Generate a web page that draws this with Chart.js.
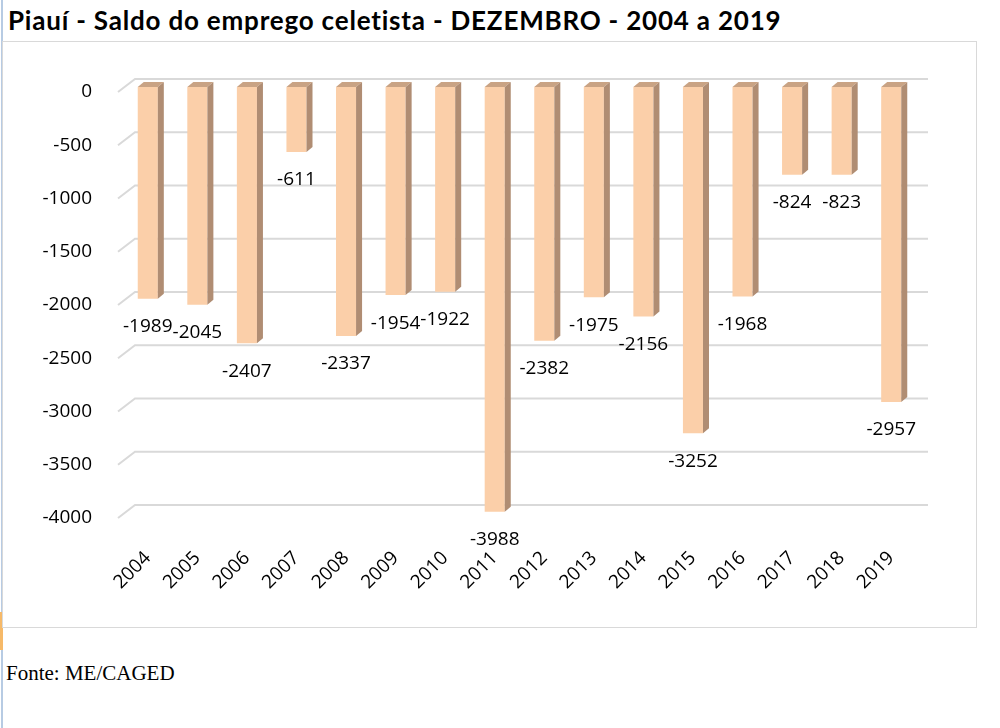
<!DOCTYPE html>
<html>
<head>
<meta charset="utf-8">
<script src="https://cdn.jsdelivr.net/npm/chart.js@4.4.0/dist/chart.umd.min.js"></script>
<style>
  html, body { margin: 0; padding: 0; background: #fff; width: 1000px; height: 728px; overflow: hidden; }
  #title { position: absolute; left: 8px; top: 4px; font-family: Lato, "Open Sans", sans-serif; font-weight: 700; font-size: 26px; letter-spacing: 0.8px; color: #000; white-space: nowrap; }
  #frame { position: absolute; left: 2px; top: 41px; width: 973px; height: 585px; border: 1.5px solid #d9d9d9; }
  #leftline { position: absolute; left: 1px; top: 0; width: 2px; height: 728px; background: #b7cbe3; }
  #orange { position: absolute; left: 0; top: 612px; width: 3px; height: 38px; background: #f6b968; }
  #source { position: absolute; left: 6px; top: 661px; font-family: "Liberation Serif", "Times New Roman", serif; font-size: 21px; color: #000; white-space: nowrap; }
  canvas { position: absolute; left: 0; top: 0; }
</style>
</head>
<body>
<div id="leftline"></div>
<div id="orange"></div>
<div id="frame"></div>
<div id="title">Piauí - Saldo do emprego celetista - DEZEMBRO - 2004 a 2019</div>
<div id="source">Fonte: ME/CAGED</div>
<canvas id="c" width="1000" height="728"></canvas>
<script>
const years = ["2004","2005","2006","2007","2008","2009","2010","2011","2012","2013","2014","2015","2016","2017","2018","2019"];
const saldo = [-1989,-2045,-2407,-611,-2337,-1954,-1922,-3988,-2382,-1975,-2156,-3252,-1968,-824,-823,-2957];
const yMin = -4000, yMax = 0, yStep = 500;

const FONT = "'Open Sans', Lato, sans-serif";
const DX = 6, DY = 5;          // bar depth
const GX = 12, GY = 8;         // grid back-wall offset
const FX = 5, FY = 5;          // grid front offset

const gridPlugin = {
  id: 'grid3d',
  beforeDatasetsDraw(chart) {
    const ctx = chart.ctx, ys = chart.scales.y, a = chart.chartArea;
    ctx.save();
    ctx.strokeStyle = '#d9d9d9';
    ctx.lineWidth = 2;
    ys.ticks.forEach(t => {
      const y = ys.getPixelForValue(t.value);
      ctx.beginPath();
      ctx.moveTo(a.left - FX, y + FY);
      ctx.lineTo(a.left + GX, y - GY);
      ctx.lineTo(a.right + GX, y - GY);
      ctx.stroke();
    });
    ctx.restore();
  }
};

const barPlugin = {
  id: 'bar3d',
  afterDatasetsDraw(chart) {
    const ctx = chart.ctx;
    const meta = chart.getDatasetMeta(0);
    ctx.save();
    meta.data.forEach((bar, i) => {
      const p = bar.getProps(['x','y','base','width'], true);
      const l = p.x - p.width/2, r = p.x + p.width/2;
      const top = Math.min(p.y, p.base), bot = Math.max(p.y, p.base);
      // top face
      ctx.fillStyle = '#c9a384';
      ctx.beginPath();
      ctx.moveTo(l, top); ctx.lineTo(r, top); ctx.lineTo(r + DX, top - DY); ctx.lineTo(l + DX, top - DY); ctx.closePath();
      ctx.fill();
      // side face
      ctx.fillStyle = '#b08d73';
      ctx.beginPath();
      ctx.moveTo(r, top); ctx.lineTo(r + DX, top - DY); ctx.lineTo(r + DX, bot - DY); ctx.lineTo(r, bot); ctx.closePath();
      ctx.fill();
      // data label
      ctx.fillStyle = '#000';
      ctx.font = '19px ' + FONT;
      ctx.textAlign = 'center';
      ctx.textBaseline = 'middle';
      ctx.fillText(String(saldo[i]), p.x, bot + 28);
    });
    ctx.restore();
  }
};

new Chart(document.getElementById('c'), {
  type: 'bar',
  data: {
    labels: years,
    datasets: [{
      data: saldo,
      backgroundColor: '#fbcfa9',
      borderWidth: 0,
      barPercentage: 0.9,
      categoryPercentage: 0.45
    }]
  },
  options: {
    responsive: false,
    animation: false,
    devicePixelRatio: 1,
    layout: { padding: { top: 87, right: 84, left: 0, bottom: 0 } },
    plugins: { legend: { display: false }, tooltip: { enabled: false }, title: { display: false } },
    scales: {
      y: {
        min: yMin, max: yMax,
        border: { display: false },
        grid: { display: false, drawTicks: false },
        ticks: { stepSize: yStep, padding: 31, labelOffset: 5, color: '#000', font: { family: FONT, size: 19 },
                 callback: v => String(v) },
        afterFit(s) { s.width = 123; }
      },
      x: {
        border: { display: false },
        grid: { display: false, drawTicks: false },
        ticks: { minRotation: 45, maxRotation: 45, padding: 34, color: '#000', font: { family: FONT, size: 19 } },
        afterFit(s) { s.height = 215; }
      }
    }
  },
  plugins: [gridPlugin, barPlugin]
});
</script>
</body>
</html>
